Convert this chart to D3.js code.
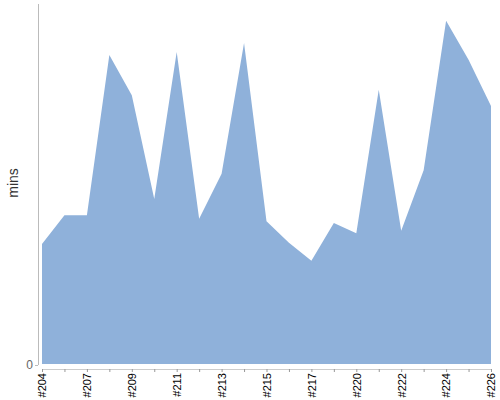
<!DOCTYPE html>
<html>
<head>
<meta charset="utf-8">
<script src="https://cdn.jsdelivr.net/npm/d3@7"></script>
<style>
  body { margin: 0; background: #fff; }
  svg { font-family: "Liberation Sans", Arial, sans-serif; }
</style>
</head>
<body>
<div id="chart"></div>
<script>
// build numbers along the x axis
var builds = ['#204', '#205', '#207', '#208', '#209', '#210', '#211', '#212', '#213', '#214',
              '#215', '#216', '#217', '#218', '#220', '#221', '#222', '#223', '#224', '#225', '#226'];
// duration per build, minutes
var mins = [20.0, 24.8, 24.8, 51.5, 44.8, 27.5, 52.0, 24.2, 31.7, 53.5,
            23.8, 20.2, 17.2, 23.5, 21.8, 45.7, 22.2, 32.3, 57.2, 50.7, 43.0];
var yTicks = [0];
var yMax = 60;

var width = 500, height = 400;
var svg = d3.select('#chart').append('svg')
    .attr('width', width)
    .attr('height', height);

var x = d3.scalePoint()
    .domain(builds)
    .range([42, 491]);

var y = d3.scaleLinear()
    .domain([0, yMax])
    .range([364, 4]);

var area = d3.area()
    .x(function(d, i){ return x(builds[i]) })
    .y0(y(0))
    .y1(function(d){ return y(d) });

svg.append('path')
    .datum(mins)
    .attr('d', area)
    .style('fill', '#8fb1da');

// y axis
var yAxis = svg.append('g')
    .attr('transform', 'translate(38,1)')
    .call(d3.axisLeft(y).tickValues(yTicks).tickSize(3).tickSizeOuter(0));
yAxis.select('.domain').attr('stroke', '#bbb').attr('d', 'M0.5,3V364');
yAxis.selectAll('.tick line').attr('stroke', '#bbb');
yAxis.selectAll('.tick text')
    .attr('fill', '#666')
    .style('font-size', '12px')
    .attr('x', -5);

// x axis
var xAxis = svg.append('g')
    .attr('transform', 'translate(0,369)')
    .call(d3.axisBottom(x).tickSize(3).tickSizeOuter(0)
        .tickFormat(function(d, i){ return i % 2 === 0 ? d : '' }));
xAxis.select('.domain').attr('stroke', '#ccc');
xAxis.selectAll('.tick line').attr('stroke', '#999');
xAxis.selectAll('.tick text')
    .attr('fill', '#000')
    .style('font-size', '11px')
    .attr('text-anchor', 'end')
    .attr('transform', 'rotate(-90)')
    .attr('y', 0)
    .attr('x', -4)
    .attr('dy', '0.35em');

// y label
svg.append('text')
    .attr('transform', 'translate(18,183) rotate(-90)')
    .attr('text-anchor', 'middle')
    .style('font-size', '14px')
    .attr('fill', '#333')
    .text('mins');
</script>
</body>
</html>
